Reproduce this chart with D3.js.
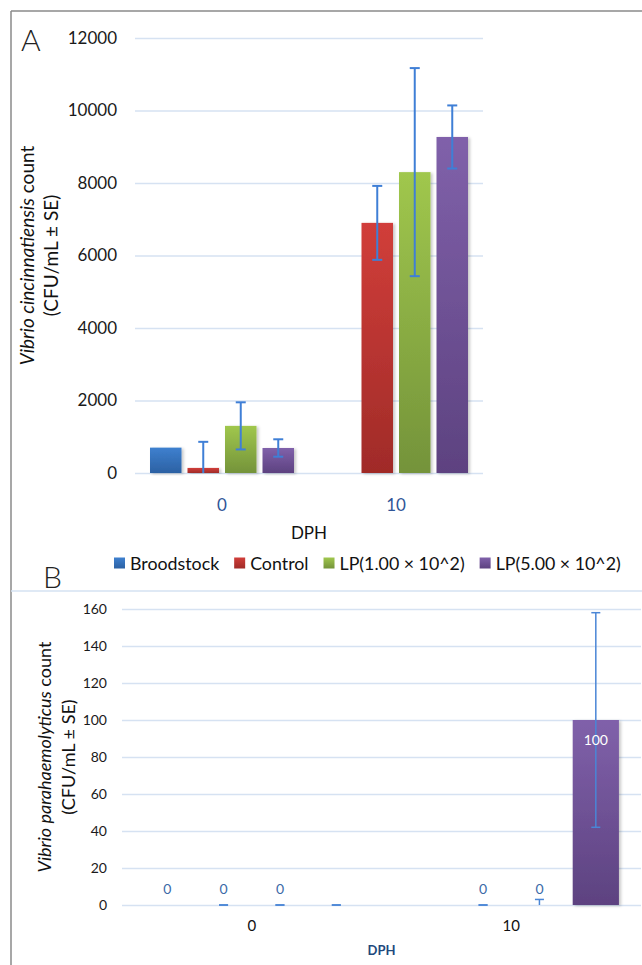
<!DOCTYPE html>
<html>
<head>
<meta charset="utf-8">
<script src="https://cdn.jsdelivr.net/npm/d3@7"></script>
<style>
  html, body { margin: 0; padding: 0; background: #fff; }
  svg { display: block; font-family: Lato, "Open Sans", sans-serif; }
</style>
</head>
<body>
<svg id="fig" width="642" height="965"></svg>
<script>
// Days post hatch (x categories) and treatment series
const groups = ["0", "10"];
const seriesNames = ["Broodstock", "Control", "LP(1.00 × 10^2)", "LP(5.00 × 10^2)"];

// Panel A: Vibrio cincinnatiensis count (CFU/mL), means and SE per series, by DPH
const vcBroodstock = [700, null];
const vcControl = [140, 6900];
const vcLP1 = [1300, 8300];
const vcLP5 = [690, 9270];
const vcBroodstockSE = [null, null];
const vcControlSE = [720, 1020];
const vcLP1SE = [650, 2870];
const vcLP5SE = [240, 870];
const vcTicks = [0, 2000, 4000, 6000, 8000, 10000, 12000];

// Panel B: Vibrio parahaemolyticus count (CFU/mL), means and SE per series, by DPH
const vpBroodstock = [0, null];
const vpControl = [0, 0];
const vpLP1 = [0, 0];
const vpLP5 = [0, 100];
const vpBroodstockSE = [null, null];
const vpControlSE = [0, 0];
const vpLP1SE = [0, 3];
const vpLP5SE = [0, 58];
const vpTicks = [0, 20, 40, 60, 80, 100, 120, 140, 160];

const colorsTop = ["#3e80cf", "#d13e3a", "#a0c74d", "#8061aa"];
const colorsBottom = ["#2c61a3", "#a02b28", "#74933a", "#5d4280"];
const errColor = "#3f7fd6";

const svg = d3.select("#fig");
const defs = svg.append("defs");

seriesNames.forEach((s, i) => {
  const g = defs.append("linearGradient").attr("id", "grad" + i)
    .attr("x1", 0).attr("y1", 0).attr("x2", 0).attr("y2", 1);
  g.append("stop").attr("offset", "0%").attr("stop-color", colorsTop[i]);
  g.append("stop").attr("offset", "100%").attr("stop-color", colorsBottom[i]);
});

const shadow = defs.append("filter").attr("id", "shadow")
  .attr("x", "-20%").attr("y", "-5%").attr("width", "150%").attr("height", "115%");
shadow.append("feDropShadow").attr("dx", 2).attr("dy", 1).attr("stdDeviation", 1.6)
  .attr("flood-color", "#000").attr("flood-opacity", 0.22);

// Outer frame (top and left edges)
svg.append("line").attr("x1", 11).attr("x2", 642).attr("y1", 11).attr("y2", 11)
  .attr("stroke", "#8a8a8a").attr("stroke-width", 1.5);
svg.append("line").attr("x1", 11).attr("x2", 11).attr("y1", 11).attr("y2", 965)
  .attr("stroke", "#8a8a8a").attr("stroke-width", 1.5);
// Divider between the two panels
svg.append("line").attr("x1", 11).attr("x2", 642).attr("y1", 591).attr("y2", 591)
  .attr("stroke", "#d5e2f2").attr("stroke-width", 1.5);

function toRows(means, ses) {
  return groups.map((g, gi) => seriesNames.map((s, si) => ({
    group: g, series: s, si: si, value: means[si][gi], se: ses[si][gi]
  })));
}

function drawPanel(opt) {
  const x0 = d3.scaleBand().domain(groups).range([opt.left, opt.right]);
  const x1 = d3.scaleBand().domain(seriesNames)
    .range([opt.groupPad, x0.bandwidth() - opt.groupPad])
    .paddingInner(opt.barGap).paddingOuter(opt.barGap / 2);
  const y = d3.scaleLinear().domain([0, opt.ticks[opt.ticks.length - 1]]).range([opt.bottom, opt.top]);

  const g = svg.append("g");

  // gridlines and tick labels
  const yAxis = d3.axisLeft(y).tickValues(opt.ticks).tickFormat(d3.format("d"))
    .tickSize(-(opt.right - opt.left)).tickPadding(opt.tickPad);
  const ya = g.append("g").attr("transform", `translate(${opt.left},0)`).call(yAxis);
  ya.select(".domain").remove();
  ya.selectAll(".tick line").attr("stroke", "#d6e2f2").attr("stroke-width", 1.5);
  ya.selectAll(".tick text").attr("fill", "#1a1a1a").style("font-size", opt.tickFont + "px")
    .style("font-family", "Lato, sans-serif");

  const rows = toRows(opt.means, opt.ses);
  const gg = g.selectAll(".grp").data(rows).join("g")
    .attr("transform", (d, i) => `translate(${x0(groups[i])},0)`);

  // bars
  gg.selectAll("rect").data(d => d.filter(r => r.value !== null && r.value > 0)).join("rect")
    .attr("x", d => x1(d.series))
    .attr("width", x1.bandwidth())
    .attr("y", d => y(d.value))
    .attr("height", d => y(0) - y(d.value))
    .attr("fill", d => `url(#grad${d.si})`)
    .attr("filter", "url(#shadow)");

  // error bars
  const cap = opt.capWidth / 2;
  const eb = gg.selectAll(".eb").data(d => d.filter(r => r.value !== null && r.se !== null)).join("g")
    .attr("class", "eb")
    .attr("transform", d => `translate(${x1(d.series) + x1.bandwidth() / 2},0)`);
  eb.append("line")
    .attr("y1", d => y(Math.max(0, d.value - d.se)))
    .attr("y2", d => y(d.value + d.se))
    .attr("stroke", opt.errColor).attr("stroke-width", opt.errWidth);
  eb.append("line").attr("x1", -cap).attr("x2", cap)
    .attr("y1", d => y(d.value + d.se)).attr("y2", d => y(d.value + d.se))
    .attr("stroke", opt.errColor).attr("stroke-width", opt.errWidth);
  eb.filter(d => d.value - d.se >= 0).append("line").attr("x1", -cap).attr("x2", cap)
    .attr("y1", d => y(d.value - d.se)).attr("y2", d => y(d.value - d.se))
    .attr("stroke", opt.errColor).attr("stroke-width", opt.errWidth);

  // category labels
  g.selectAll(".cat").data(groups).join("text")
    .attr("x", d => x0(d) + x0.bandwidth() / 2)
    .attr("y", opt.catY)
    .attr("text-anchor", "middle").attr("dominant-baseline", "central")
    .attr("fill", opt.catColor).style("font-size", opt.catFont + "px")
    .text(d => d);

  // x axis title
  g.append("text")
    .attr("x", (opt.left + opt.right) / 2).attr("y", opt.titleY)
    .attr("text-anchor", "middle").attr("dominant-baseline", "central")
    .attr("fill", opt.titleColor).style("font-size", opt.titleFont + "px")
    .style("font-weight", opt.titleWeight)
    .text("DPH");

  // y axis title: two lines, species name in italics
  const cy = (opt.top + opt.bottom) / 2;
  const t1 = g.append("text")
    .attr("transform", `translate(${opt.yTitleX1},${cy}) rotate(-90)`)
    .attr("text-anchor", "middle").attr("dominant-baseline", "central")
    .attr("fill", "#111").style("font-size", opt.yTitleFont + "px");
  t1.append("tspan").style("font-style", "italic").text(opt.species);
  t1.append("tspan").text(" count");
  g.append("text")
    .attr("transform", `translate(${opt.yTitleX2},${cy}) rotate(-90)`)
    .attr("text-anchor", "middle").attr("dominant-baseline", "central")
    .attr("fill", "#111").style("font-size", opt.yTitleFont + "px")
    .text("(CFU/mL ± SE)");

  return { x0, x1, y, g, gg };
}

// Panel A
drawPanel({
  left: 135, right: 483, top: 38, bottom: 473,
  groupPad: 12, barGap: 0.16,
  ticks: vcTicks, tickFont: 17, tickPad: 18,
  means: [vcBroodstock, vcControl, vcLP1, vcLP5],
  ses: [vcBroodstockSE, vcControlSE, vcLP1SE, vcLP5SE],
  capWidth: 10, errColor: errColor, errWidth: 2,
  catY: 504, catColor: "#2f5597", catFont: 17,
  titleY: 532, titleColor: "#111", titleFont: 17, titleWeight: "normal",
  species: "Vibrio cincinnatiensis", yTitleX1: 26, yTitleX2: 50, yTitleFont: 19
});

// Panel B
const pB = drawPanel({
  left: 122, right: 641, top: 609, bottom: 905,
  groupPad: 17, barGap: 0.18,
  ticks: vpTicks, tickFont: 14, tickPad: 15,
  means: [vpBroodstock, vpControl, vpLP1, vpLP5],
  ses: [vpBroodstockSE, vpControlSE, vpLP1SE, vpLP5SE],
  capWidth: 9, errColor: "#4a86d6", errWidth: 1.5,
  catY: 925, catColor: "#111", catFont: 15,
  titleY: 950, titleColor: "#1f497d", titleFont: 13, titleWeight: "bold",
  species: "Vibrio parahaemolyticus", yTitleX1: 44, yTitleX2: 68, yTitleFont: 18
});

// Panel B value labels (last series drawn in white, inside its bar)
pB.gg.selectAll(".lbl").data(d => d.filter(r => r.value !== null)).join("text")
  .attr("class", "lbl")
  .attr("x", d => pB.x1(d.series) + pB.x1.bandwidth() / 2)
  .attr("y", d => d.value > 0 ? pB.y(d.value) + 19 : pB.y(d.value) - 17)
  .attr("text-anchor", "middle").attr("dominant-baseline", "central")
  .attr("fill", d => d.si === 3 ? "#ffffff" : "#3b6aa8")
  .style("font-size", "14px")
  .text(d => d.value);

// Legend
const legend = svg.append("g").attr("transform", "translate(114,563)");
let lx = 0;
seriesNames.forEach((s, i) => {
  const item = legend.append("g").attr("transform", `translate(${lx},0)`);
  item.append("rect").attr("x", 0).attr("y", -5.5).attr("width", 11).attr("height", 11)
    .attr("fill", `url(#grad${i})`);
  const t = item.append("text").attr("x", 16).attr("y", 0)
    .attr("dominant-baseline", "central").attr("fill", "#111")
    .style("font-size", "17.8px").text(s);
  lx += 16 + t.node().getComputedTextLength() + 15;
});

// Panel letters
svg.append("text").attr("x", 21).attr("y", 51).attr("fill", "#222")
  .style("font-size", "30px").style("font-weight", 300).text("A");
svg.append("text").attr("x", 43).attr("y", 588).attr("fill", "#222")
  .style("font-size", "30px").style("font-weight", 300).text("B");
</script>
</body>
</html>
